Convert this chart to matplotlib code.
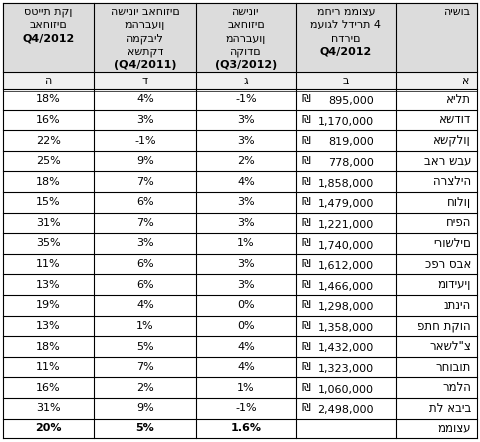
import matplotlib
matplotlib.use("Agg")
import matplotlib.pyplot as plt

cities = ["אילת","אשדוד","אשקלון","באר שבע","הרצליה","חולון","חיפה","ירושלים","כפר סבא","מודיעין","נתניה","פתח תקוה","ראשל\"צ","רחובות","רמלה","תל אביב"]
prices = [895000,1170000,819000,778000,1858000,1479000,1221000,1740000,1612000,1466000,1298000,1358000,1432000,1323000,1060000,2498000]
q3_change = [-1,3,3,2,4,3,3,1,3,3,0,0,4,4,1,-1]
yoy_change = [4,3,-1,9,7,6,7,3,6,6,4,1,5,7,2,9]
stdev = [18,16,22,25,18,15,31,35,11,13,19,13,18,11,16,31]
avg_label = "ממוצע"
avg_vals = ["20%","5%","1.6%"]
headers = [["סטיית תקן","באחוזים","Q4/2012"],
           ["השינוי באחוזים","מהרבעון","המקביל","אשתקד","(Q4/2011)"],
           ["השינוי","באחוזים","מהרבעון","הקודם","(Q3/2012)"],
           ["מחיר ממוצע","מעוגל לדירת 4","חדרים","Q4/2012"],
           ["הישוב"]]
letters = ["ה","ד","ג","ב","א"]

W, H = 480, 442
fig = plt.figure(figsize=(W/100, H/100), dpi=100)
ax = fig.add_axes([0, 0, 1, 1])
ax.set_xlim(0, W); ax.set_ylim(H, 0); ax.axis("off")
xs = [3, 94, 196, 296, 396, 477]
ytop, yhead, ylet = 3, 72, 89
n = len(cities)
rh = 20.6
ybot_c = ylet + n*rh
ybot = ybot_c + 19
fs = 8
ax.add_patch(plt.Rectangle((xs[0], ytop), xs[-1]-xs[0], yhead-ytop, color="#dcdcdc", zorder=0))
ax.add_patch(plt.Rectangle((xs[0], yhead), xs[-1]-xs[0], ylet-yhead, color="#f0f0f0", zorder=0))
lw = 0.8
for x in xs:
    ax.plot([x, x], [ytop, ybot], color="black", lw=lw)
for y in [ytop, yhead, ylet, ybot_c, ybot] + [ylet + i*rh for i in range(1, n)]:
    ax.plot([xs[0], xs[-1]], [y, y], color="black", lw=lw)
ax.plot([xs[0], xs[-1]], [ylet+1.5, ylet+1.5], color="black", lw=0.5)
for j, hl in enumerate(headers):
    cx = (xs[j] + xs[j+1]) / 2
    for k, line in enumerate(hl):
        bold = "Q" in line
        if j == 4:
            ax.text(xs[j+1]-6, ytop+9, line, ha="right", va="center", fontsize=fs)
        else:
            ax.text(cx, ytop+9+k*13.3, line, ha="center", va="center", fontsize=fs,
                    fontweight="bold" if bold else "normal")
    if j == 4:
        ax.text(xs[j+1]-8, (yhead+ylet)/2, letters[j], ha="right", va="center", fontsize=fs)
    else:
        ax.text(cx, (yhead+ylet)/2, letters[j], ha="center", va="center", fontsize=fs)
for i in range(n):
    yc = ylet + (i+0.5)*rh
    ax.text(xs[5]-6, yc, cities[i], ha="right", va="center", fontsize=fs+0.5)
    ax.text(xs[4]-22, yc+2, f"{prices[i]:,}", ha="right", va="center", fontsize=fs)
    ax.text(xs[3]+6, yc, "₪", ha="left", va="center", fontsize=fs)
    for j, v in enumerate([stdev[i], yoy_change[i], q3_change[i]]):
        ax.text((xs[j]+xs[j+1])/2, yc, f"{v}%", ha="center", va="center", fontsize=fs)
yc = (ybot_c + ybot)/2
ax.text(xs[5]-6, yc, avg_label, ha="right", va="center", fontsize=fs+0.5)
for j, v in enumerate(avg_vals):
    ax.text((xs[j]+xs[j+1])/2, yc, v, ha="center", va="center", fontsize=fs, fontweight="bold")
fig.savefig("out.png", dpi=100, facecolor="white")
